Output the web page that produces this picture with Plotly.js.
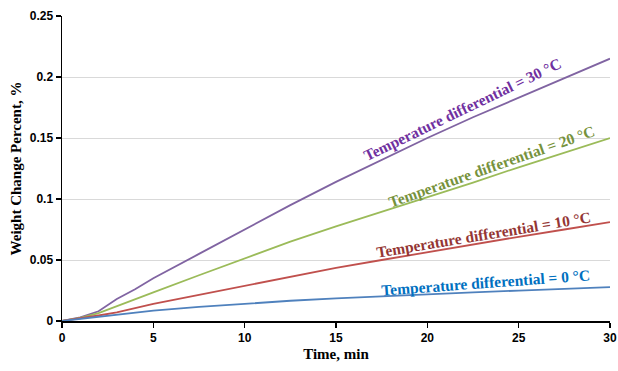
<!DOCTYPE html>
<html>
<head>
<meta charset="utf-8">
<script src="https://cdn.plot.ly/plotly-3.0.1.min.js"></script>
<style>html,body{margin:0;padding:0;background:#fff;}#chart{width:618px;height:371px;}</style>
</head>
<body>
<div id="chart"></div>
<script>
const time = [0, 1, 2, 3, 4, 5, 7.5, 10, 12.5, 15, 17.5, 20, 22.5, 25, 27.5, 30];
const dT30 = [0, 0.003, 0.008, 0.018, 0.026, 0.035, 0.055, 0.075, 0.095, 0.114, 0.132, 0.150, 0.167, 0.183, 0.199, 0.215];
const dT20 = [0, 0.0025, 0.0065, 0.012, 0.0175, 0.0235, 0.0375, 0.051, 0.065, 0.0775, 0.0895, 0.101, 0.1135, 0.126, 0.138, 0.150];
const dT10 = [0, 0.002, 0.0045, 0.007, 0.0105, 0.014, 0.0215, 0.029, 0.0365, 0.0435, 0.050, 0.0565, 0.063, 0.069, 0.075, 0.081];
const dT0  = [0, 0.0018, 0.0035, 0.005, 0.0068, 0.0085, 0.0115, 0.0143, 0.0166, 0.0186, 0.0204, 0.022, 0.0235, 0.0249, 0.0263, 0.0277];
const labels = ["Temperature differential = 30 °C", "Temperature differential = 20 °C", "Temperature differential = 10 °C", "Temperature differential = 0 °C"];
const labelX = [21.9, 23.5, 23.1, 23.2];
const labelY = [0.173, 0.127, 0.0713, 0.0318];
const labelAngle = [-25.7, -19.4, -9.4, -4.2];
const lineColors = ["#8064A2", "#9BBB59", "#C0504D", "#4F81BD"];
const textColors = ["#7030A0", "#76923C", "#943634", "#0070C0"];
const series = [dT30, dT20, dT10, dT0];

const traces = series.map((s, i) => ({
  x: time, y: s, type: 'scatter', mode: 'lines',
  line: {color: lineColors[i], width: 1.8}, showlegend: false
}));

const annotations = labels.map((t, i) => ({
  x: labelX[i], y: labelY[i], xref: 'x', yref: 'y',
  text: '<b>' + t + '</b>', showarrow: false, textangle: labelAngle[i],
  font: {family: 'Liberation Serif, Times New Roman, serif', size: 15.5, color: textColors[i]}
}));

const layout = {
  width: 618, height: 371,
  margin: {l: 62, r: 8, t: 16, b: 50},
  paper_bgcolor: '#fff', plot_bgcolor: '#fff',
  font: {family: 'Liberation Sans, Arial, sans-serif', color: '#000'},
  xaxis: {
    range: [0, 30], tickvals: [0, 5, 10, 15, 20, 25, 30], ticktext: ['<b>0</b>','<b>5</b>','<b>10</b>','<b>15</b>','<b>20</b>','<b>25</b>','<b>30</b>'],
    showgrid: false, zeroline: false, showline: true, linecolor: '#000', linewidth: 1.5,
    ticks: 'outside', ticklen: 5, tickwidth: 1.5, tickcolor: '#000',
    tickfont: {size: 12, family: 'Liberation Sans, Arial, sans-serif'},
    title: {text: '<b>Time, min</b>', font: {family: 'Liberation Serif, Times New Roman, serif', size: 15}, standoff: 4}
  },
  yaxis: {
    range: [0, 0.25], tickvals: [0, 0.05, 0.1, 0.15, 0.2, 0.25], ticktext: ['<b>0</b>','<b>0.05</b>','<b>0.1</b>','<b>0.15</b>','<b>0.2</b>','<b>0.25</b>'],
    showgrid: true, gridcolor: '#D9D9D9', gridwidth: 1, zeroline: false,
    showline: true, linecolor: '#000', linewidth: 1.5,
    ticks: 'outside', ticklen: 5, tickwidth: 1.5, tickcolor: '#000',
    tickfont: {size: 12, family: 'Liberation Sans, Arial, sans-serif'},
    title: {text: '<b>Weight Change Percent, %</b>', font: {family: 'Liberation Serif, Times New Roman, serif', size: 15}, standoff: 4}
  },
  annotations: annotations
};

Plotly.newPlot('chart', traces, layout, {displayModeBar: false, staticPlot: true});
</script>
</body>
</html>
